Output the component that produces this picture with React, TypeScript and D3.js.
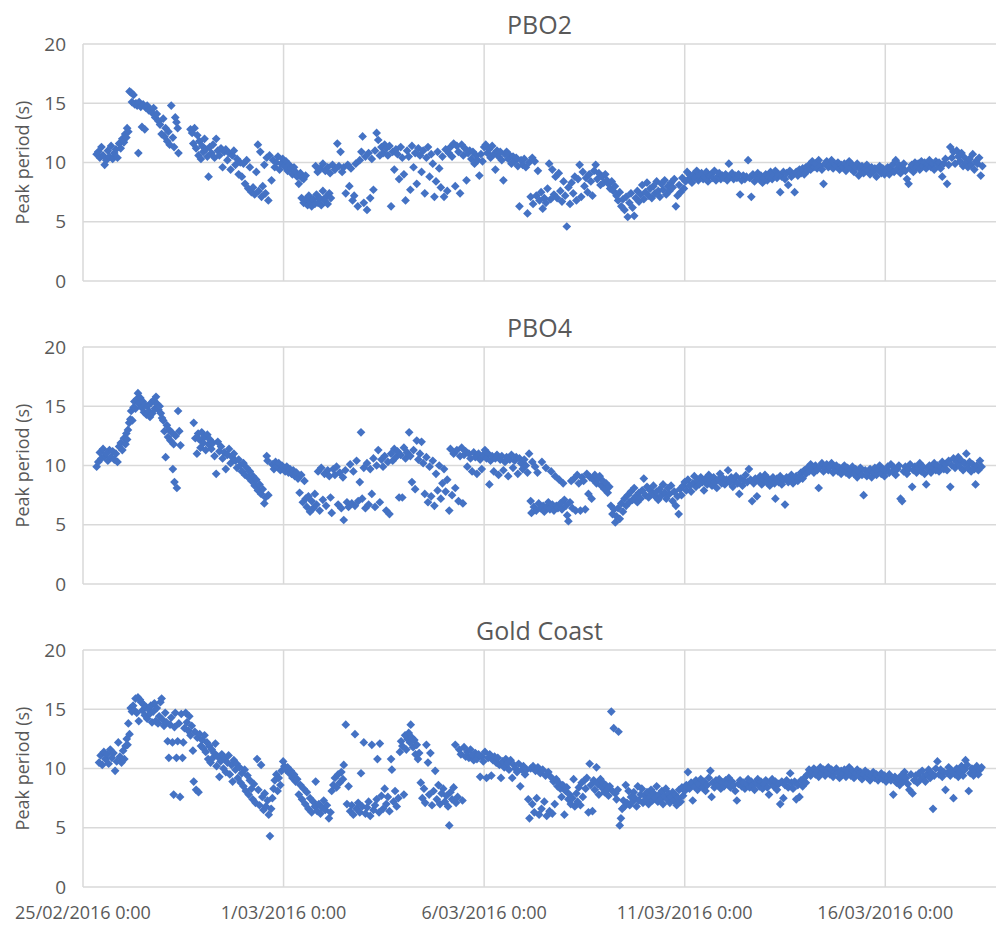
import React from 'react';
import * as d3 from 'd3';

// [days since 25/02/2016 0:00, peak period (s)]
const pbo2Points: [number, number][] = [
  [0.34,10.7],[0.38,10.9],[0.42,10.4],[0.46,11.3],[0.5,10.6],[0.54,9.8],[0.58,10.2],[0.62,11.0],[0.66,10.5],[0.7,11.4],[0.74,10.3],[0.78,10.8],[0.82,11.1],[0.86,10.4],[0.9,11.6],[0.94,11.2],[0.98,12.0],[1.02,11.7],[1.05,12.4],[1.08,12.1],[1.1,12.9],[1.13,12.6],
  [1.16,16.0],[1.2,15.9],[1.22,15.1],[1.26,15.7],[1.29,14.9],[1.32,15.0],[1.35,14.8],[1.38,10.8],[1.4,15.1],[1.44,14.7],[1.47,13.0],[1.5,14.9],[1.54,12.8],[1.57,14.6],[1.6,14.8],[1.64,14.4],[1.68,14.5],[1.72,14.2],[1.76,14.6],[1.8,13.8],[1.84,14.1],[1.88,13.5],[1.92,13.2],[1.96,12.4],[2.0,13.7],[2.03,12.2],[2.06,12.9],[2.1,11.8],[2.13,12.6],[2.16,11.5],[2.2,14.8],[2.24,12.1],[2.27,11.3],[2.3,13.8],[2.33,13.4],[2.36,12.9],[2.38,10.8],
  [2.68,12.8],[2.72,12.5],[2.75,11.6],[2.78,12.9],[2.82,11.2],[2.85,12.3],[2.88,10.6],[2.9,11.8],[2.94,10.3],[2.97,11.4],[3.0,10.9],[3.03,12.0],[3.06,11.1],[3.1,10.5],[3.13,8.8],
  [3.16,11.3],[3.2,10.8],[3.24,11.5],[3.28,10.4],[3.32,12.0],[3.36,11.0],[3.4,10.6],[3.44,11.2],[3.48,9.6],[3.52,10.9],[3.56,11.1],[3.6,10.2],[3.64,10.8],[3.68,9.4],[3.72,10.6],[3.76,11.0],[3.8,9.8],[3.84,10.3],[3.88,9.0],[3.92,10.0],[3.96,8.8],
  [4.0,9.9],[4.04,8.2],[4.08,10.2],[4.12,7.8],[4.16,9.6],[4.2,7.5],[4.24,7.9],[4.28,7.3],[4.32,9.2],[4.36,11.5],[4.38,7.6],[4.42,10.9],[4.45,7.1],[4.48,8.0],[4.52,9.8],[4.55,7.4],[4.58,10.4],[4.62,6.8],[4.65,10.6],[4.7,8.5],
  [4.74,10.2],[4.78,9.6],[4.82,10.0],[4.86,10.5],[4.9,9.4],[4.94,9.9],[4.98,10.3],[5.02,9.7],[5.06,10.1],[5.1,9.3],[5.14,9.8],[5.18,9.5],[5.22,9.0],[5.26,9.6],[5.3,9.2],[5.34,8.8],[5.38,8.2],[5.42,9.1],[5.46,8.7],[5.5,8.6],[5.55,8.9],
  [5.45,7.0],[5.5,6.6],[5.55,6.9],[5.6,6.4],[5.63,7.2],[5.67,6.7],[5.7,6.3],[5.74,6.9],[5.78,6.5],[5.82,7.3],[5.86,6.6],[5.9,7.0],[5.94,6.4],[5.98,7.6],[6.02,6.8],[6.06,7.1],[6.1,6.5],[6.14,7.4],[6.18,7.0],
  [5.8,9.7],[5.85,9.2],[5.92,9.5],[5.98,9.9],[6.04,9.3],[6.1,9.6],[6.16,9.1],[6.22,9.8],[6.28,9.4],[6.34,11.6],[6.38,9.7],[6.42,10.9],[6.46,9.2],[6.5,9.6],[6.55,7.4],[6.6,9.8],[6.64,8.0],[6.68,9.5],[6.72,6.8],[6.76,7.2],[6.8,9.9],[6.85,6.3],[6.9,10.2],[6.94,10.9],[6.97,12.2],[7.0,6.6],[7.04,10.5],[7.08,6.0],[7.12,10.8],[7.16,7.0],[7.2,10.3],[7.24,7.7],[7.28,11.0],[7.32,12.5],[7.36,11.9],[7.4,10.6],[7.44,11.3],[7.48,10.8],[7.52,11.5],
  [7.56,11.2],[7.6,10.6],[7.64,11.4],[7.68,6.3],[7.72,10.9],[7.76,9.4],[7.8,11.1],[7.84,10.7],[7.88,8.6],[7.92,11.3],[7.96,10.4],[8.0,9.0],[8.04,6.8],[8.08,11.0],[8.12,10.5],[8.16,7.7],[8.2,11.4],[8.24,9.6],[8.28,10.8],[8.32,8.2],[8.36,11.2],[8.4,10.6],[8.44,9.2],[8.48,11.0],[8.52,7.4],[8.56,10.4],[8.6,11.3],[8.64,8.8],[8.68,10.7],[8.72,9.9],[8.76,7.1],[8.8,8.4],[8.84,10.9],[8.88,9.5],[8.92,7.9],[8.96,10.5],[9.0,7.1],[9.04,11.1],[9.08,7.6],
  [9.12,10.8],[9.16,11.3],[9.2,10.5],[9.24,11.6],[9.28,8.0],[9.32,11.4],[9.36,10.9],[9.4,7.4],[9.44,11.5],[9.48,10.6],[9.52,11.2],[9.56,8.5],[9.6,10.8],[9.64,11.0],[9.68,10.3],[9.72,10.9],[9.76,9.9],[9.8,10.6],[9.84,10.2],[9.88,8.9],[9.92,10.7],[9.96,10.1],[10.0,11.3],[10.04,11.5],[10.08,10.8],[10.12,11.1],[10.16,10.4],[10.2,11.4],[10.24,10.7],[10.28,9.4],[10.32,11.0],[10.36,10.5],[10.4,10.9],[10.44,10.2],[10.48,8.5],[10.52,10.7],[10.56,10.9],[10.6,10.3],[10.64,10.6],[10.68,9.9],[10.72,10.5],[10.76,10.1],[10.8,10.4],[10.84,9.7],[10.88,6.3],[10.92,10.2],[10.96,9.8],[11.0,10.3],[11.04,9.6],[11.08,5.7],[11.12,10.0],[11.16,7.1],[11.2,10.4],
  [11.22,6.5],[11.26,10.1],[11.3,7.2],[11.34,9.3],[11.38,6.8],[11.42,7.5],[11.46,6.1],[11.5,7.0],[11.54,6.6],[11.58,7.8],[11.62,9.9],[11.66,6.9],[11.7,9.4],[11.74,7.3],[11.78,8.8],[11.82,7.0],[11.86,9.1],[11.9,7.6],[11.94,6.7],[11.98,8.4],[12.02,7.2],[12.06,4.6],[12.1,7.9],[12.14,6.5],[12.18,8.3],[12.22,7.4],[12.26,8.8],[12.3,6.8],[12.34,8.6],[12.38,9.8],[12.42,7.1],[12.46,9.2],[12.5,8.0],[12.54,8.7],[12.58,7.5],[12.62,9.0],[12.66,8.4],[12.7,7.2],[12.74,9.3],[12.78,9.8],[12.82,8.6],[12.86,9.1],[12.9,8.1],[12.94,8.8],[12.98,8.3],[13.02,9.0],[13.06,8.5],[13.1,8.2],[13.14,7.8],[13.18,8.4],[13.22,7.6],[13.26,8.0],[13.3,7.2],[13.34,6.8],[13.38,7.5],[13.42,6.3],[13.46,6.9],[13.5,6.0],[13.54,7.1],[13.58,5.4],[13.62,6.6],[13.66,7.4],[13.7,6.2],[13.74,5.5],[13.78,7.0],[13.82,7.6],[13.86,6.7],[13.9,7.3],[13.94,8.1],[13.98,6.9],[14.02,7.5],[14.06,8.3],[14.1,7.2],[14.14,7.8],[14.18,7.0],[14.22,8.0],[14.26,7.4],[14.3,8.4],[14.34,7.6],[14.38,7.1],[14.42,8.2],[14.46,7.7],[14.5,8.5],[14.54,7.3],[14.58,8.0],[14.62,7.6],[14.66,8.3],[14.7,7.9],[14.74,8.6],[14.78,6.3],[14.82,7.2],[14.86,8.1],[14.9,7.5],[14.94,8.7],[14.98,7.8],
  [15.02,8.4],[15.06,9.2],[15.1,8.6],[15.14,8.9],[15.18,8.3],[15.22,9.0],[15.26,8.7],[15.3,9.3],[15.34,8.5],[15.38,8.9],[15.42,9.1],[15.46,8.6],[15.5,8.8],[15.54,9.2],[15.58,8.4],[15.62,8.9],[15.66,9.0],[15.7,8.7],[15.74,9.3],[15.78,8.5],[15.82,8.8],[15.86,9.1],[15.9,8.6],[15.94,8.9],[15.98,8.7],[16.02,9.0],[16.06,8.5],[16.1,9.9],[16.14,8.8],[16.18,9.1],[16.22,8.6],[16.26,8.9],[16.3,8.7],[16.34,9.0],[16.38,7.3],[16.42,8.5],[16.46,8.9],[16.5,8.6],[16.54,8.8],[16.58,10.2],[16.62,8.7],[16.66,7.1],[16.7,9.0],[16.74,8.4],[16.78,8.8],[16.82,9.1],[16.86,8.6],[16.9,8.9],[16.94,8.3],[16.98,8.7],[17.02,9.0],[17.06,8.5],[17.1,8.8],[17.14,9.2],[17.18,8.6],[17.22,8.9],[17.26,9.3],[17.3,8.7],[17.34,9.0],[17.38,7.5],[17.42,8.8],[17.46,9.2],[17.5,8.6],[17.54,9.1],[17.58,8.1],[17.62,9.3],[17.66,8.8],[17.7,9.0],[17.74,7.5],[17.78,9.2],[17.82,8.9],[17.86,9.4],[17.9,9.1],[17.94,9.5],[17.98,9.0],
  [18.02,9.6],[18.06,9.3],[18.1,9.8],[18.14,9.4],[18.18,10.1],[18.22,9.6],[18.26,9.9],[18.3,9.5],[18.34,10.2],[18.38,9.7],[18.42,9.4],[18.46,8.2],[18.5,9.9],[18.54,10.1],[18.58,9.6],[18.62,9.8],[18.66,10.2],[18.7,9.5],[18.74,9.9],[18.78,9.7],[18.82,10.0],[18.86,9.4],[18.9,9.8],[18.94,9.6],[18.98,9.9],[19.02,9.3],[19.06,9.7],[19.1,10.1],[19.14,9.5],[19.18,9.8],[19.22,9.2],[19.26,9.6],[19.3,9.9],[19.34,8.9],[19.38,9.4],[19.42,9.7],[19.46,9.1],[19.5,9.5],[19.54,9.8],[19.58,9.3],[19.62,9.0],[19.66,9.6],[19.7,9.2],[19.74,9.5],[19.78,8.8],[19.82,9.4],[19.86,9.7],[19.9,9.1],[19.94,9.5],[19.98,9.0],
  [20.02,9.3],[20.06,9.6],[20.1,9.0],[20.14,9.4],[20.18,9.8],[20.22,9.2],[20.26,10.2],[20.3,9.5],[20.34,9.8],[20.38,9.1],[20.42,9.6],[20.46,9.9],[20.5,9.3],[20.54,8.6],[20.58,8.2],[20.62,9.5],[20.66,9.8],[20.7,9.2],[20.74,10.0],[20.78,9.6],[20.82,9.9],[20.86,9.4],[20.9,10.1],[20.94,9.7],[20.98,10.0],[21.02,9.5],[21.06,9.9],[21.1,10.2],[21.14,9.6],[21.18,9.9],[21.22,9.4],[21.26,10.1],[21.3,9.8],[21.34,10.0],[21.38,9.5],[21.42,8.8],[21.46,9.9],[21.5,10.3],[21.54,8.2],[21.58,9.8],[21.62,11.3],[21.66,10.4],[21.7,10.9],[21.74,9.9],[21.78,11.0],[21.82,10.5],[21.86,10.1],[21.9,10.8],[21.94,9.7],[21.98,10.4],[22.02,10.0],[22.06,9.6],[22.1,10.3],[22.14,9.8],[22.18,10.7],[22.22,9.4],[22.26,10.1],[22.3,9.9],[22.34,10.4],[22.38,8.9],[22.42,9.7],
];

const pbo4Points: [number, number][] = [
  [0.34,9.9],[0.38,10.3],[0.42,11.1],[0.46,10.6],[0.5,11.4],[0.54,10.8],[0.58,11.0],[0.62,10.4],[0.66,11.3],[0.7,10.7],[0.74,11.2],[0.78,10.5],[0.82,11.0],[0.86,10.3],[0.9,11.6],[0.94,11.9],[0.98,11.3],[1.02,12.3],[1.06,11.8],[1.08,12.7],[1.1,12.2],[1.12,13.0],
  [1.15,13.6],[1.18,13.9],[1.2,14.6],[1.23,13.8],[1.26,14.9],[1.28,15.4],[1.31,14.8],[1.34,15.6],[1.37,16.1],[1.4,15.2],[1.43,15.7],[1.46,14.9],[1.49,15.4],[1.52,14.5],[1.55,15.1],[1.58,14.3],[1.61,15.0],[1.64,14.6],[1.67,14.1],[1.7,15.3],[1.73,14.4],[1.76,15.5],[1.79,14.8],[1.82,15.8],[1.85,15.2],[1.88,14.7],[1.91,15.0],[1.94,14.4],[1.97,14.0],
  [2.0,13.8],[2.03,12.9],[2.06,10.7],[2.09,13.4],[2.12,12.4],[2.15,13.0],[2.18,12.1],[2.21,12.8],[2.24,9.7],[2.26,11.8],[2.28,8.6],[2.31,12.5],[2.34,8.1],[2.37,14.6],[2.4,12.9],[2.43,11.7],
  [2.76,13.6],[2.8,12.3],[2.84,11.0],[2.87,12.7],[2.9,12.2],[2.93,11.5],[2.96,12.8],[3.0,11.9],[3.03,12.4],[3.06,11.3],[3.1,12.6],[3.13,11.8],[3.16,12.2],[3.2,11.4],[3.24,11.9],[3.28,10.8],[3.32,9.3],[3.36,12.0],[3.4,11.2],[3.44,11.6],[3.48,10.6],[3.52,11.1],[3.56,9.7],[3.6,10.9],[3.64,11.4],[3.68,10.2],[3.72,10.7],[3.76,11.0],[3.8,10.4],[3.84,9.8],[3.88,10.5],[3.92,10.0],[3.96,9.5],[4.0,10.2],[4.04,9.2],[4.08,9.8],[4.12,9.0],[4.16,9.5],[4.2,8.7],[4.24,9.1],[4.28,8.3],[4.32,8.8],[4.36,7.9],[4.4,8.4],[4.44,7.6],[4.48,8.0],[4.52,6.8],[4.55,7.3],[4.58,10.8],[4.6,10.4],[4.62,7.5],
  [4.72,10.1],[4.76,9.7],[4.8,10.3],[4.84,9.9],[4.88,10.2],[4.92,9.6],[4.96,10.0],[5.0,9.8],[5.04,9.5],[5.08,9.9],[5.12,9.4],[5.16,9.7],[5.2,9.3],[5.24,9.6],[5.28,9.1],[5.32,9.4],[5.36,8.9],[5.4,7.7],[5.44,9.2],[5.48,6.9],[5.52,8.7],[5.55,7.2],[5.58,6.5],[5.62,7.4],[5.66,6.1],[5.7,7.0],[5.74,6.4],[5.78,7.6],[5.82,6.7],[5.86,9.5],[5.9,6.2],[5.94,9.8],[5.98,7.1],[6.02,9.3],[6.06,6.6],[6.1,9.6],[6.14,9.1],[6.17,7.3],[6.2,6.0],[6.24,9.7],[6.28,9.2],[6.32,9.9],[6.36,6.7],[6.4,9.4],[6.44,6.4],[6.48,9.0],[6.5,5.4],[6.54,9.6],[6.58,6.9],[6.62,6.5],[6.66,10.1],[6.7,6.8],[6.74,9.5],[6.78,6.6],[6.82,10.4],[6.86,7.0],[6.9,8.6],[6.93,12.8],[6.96,7.2],[7.0,9.8],[7.04,6.4],[7.08,10.2],[7.12,6.7],[7.16,9.7],[7.2,7.6],[7.24,10.6],[7.28,6.5],[7.32,10.0],[7.36,11.3],[7.4,6.9],[7.44,10.5],[7.48,9.9],[7.52,10.8],[7.56,6.2],[7.6,10.3],[7.64,5.9],[7.68,11.0],[7.72,10.4],[7.76,11.4],[7.8,10.7],[7.84,11.2],[7.88,7.3],[7.92,10.9],[7.96,7.3],
  [8.0,11.5],[8.04,10.6],[8.08,11.1],[8.13,12.8],[8.16,10.8],[8.2,8.6],[8.24,11.3],[8.28,8.0],[8.32,12.1],[8.36,10.5],[8.4,11.0],[8.44,12.0],[8.48,10.2],[8.52,7.6],[8.56,10.7],[8.6,6.9],[8.64,9.9],[8.68,7.4],[8.72,10.4],[8.76,6.6],[8.8,9.3],[8.84,7.9],[8.88,10.0],[8.92,7.2],[8.96,8.5],[9.0,9.7],[9.04,7.8],[9.08,8.8],[9.13,6.2],[9.16,11.4],[9.2,7.5],[9.24,11.0],[9.28,8.1],[9.32,11.3],[9.36,7.0],[9.4,10.8],[9.44,11.5],[9.47,6.8],[9.5,10.9],[9.54,11.2],[9.58,9.9],[9.62,11.0],[9.66,10.6],[9.7,9.5],[9.74,11.1],[9.78,10.7],[9.82,9.3],[9.86,11.0],[9.9,10.5],[9.94,9.7],[9.98,10.9],
  [10.02,11.3],[10.06,10.6],[10.1,11.0],[10.13,8.4],[10.16,10.4],[10.2,10.8],[10.24,9.5],[10.28,10.6],[10.32,10.9],[10.36,9.2],[10.4,10.5],[10.44,10.8],[10.48,9.6],[10.52,10.3],[10.56,10.7],[10.6,9.1],[10.64,10.5],[10.68,10.9],[10.72,9.8],[10.76,10.4],[10.8,10.7],[10.84,9.3],[10.88,10.6],[10.92,10.2],[10.96,9.7],[11.0,10.5],[11.04,10.0],[11.08,9.4],[11.12,11.0],[11.16,7.0],[11.18,6.0],[11.2,10.3],
  [11.24,6.5],[11.27,9.9],[11.3,6.2],[11.33,9.4],[11.36,6.8],[11.4,6.4],[11.44,10.3],[11.47,6.6],[11.5,6.1],[11.54,9.8],[11.57,6.5],[11.6,6.9],[11.64,6.3],[11.67,9.5],[11.7,6.7],[11.74,6.2],[11.77,9.1],[11.8,6.6],[11.84,6.4],[11.87,8.8],[11.9,6.8],[11.94,6.3],[11.97,8.5],[12.0,7.1],[12.04,6.6],[12.07,5.8],[12.1,5.3],[12.14,6.9],[12.17,8.7],[12.2,6.4],
  [12.24,8.9],[12.28,6.2],[12.32,9.2],[12.36,8.5],[12.4,6.2],[12.44,9.0],[12.48,8.7],[12.52,6.3],[12.56,9.3],[12.6,7.6],[12.64,9.0],[12.68,7.2],[12.72,8.8],[12.76,9.2],[12.8,8.5],[12.84,8.9],[12.88,9.1],[12.92,8.3],[12.96,8.7],[13.0,8.0],[13.04,8.5],[13.08,7.7],[13.12,8.2],[13.16,6.6],[13.2,5.9],[13.24,6.3],[13.27,5.2],[13.3,5.7],[13.34,6.4],[13.38,5.5],[13.42,6.8],[13.46,6.1],[13.5,7.2],
  [13.54,6.6],[13.58,7.5],[13.62,6.9],[13.66,7.8],[13.7,7.1],[13.74,8.1],[13.78,7.4],[13.82,6.9],[13.86,7.7],[13.9,7.2],[13.94,7.9],[13.98,8.9],[14.02,7.5],[14.06,8.2],[14.1,7.3],[14.14,7.9],[14.18,7.6],[14.22,8.3],[14.26,7.4],[14.3,7.8],[14.34,7.1],[14.38,8.0],[14.42,7.5],[14.46,8.4],[14.5,7.7],[14.54,7.2],[14.58,8.1],[14.62,7.6],[14.66,8.3],[14.7,7.0],[14.74,7.8],[14.78,6.6],[14.82,7.4],[14.85,5.9],[14.88,8.0],[14.92,7.5],[14.96,8.3],
  [15.0,8.6],[15.04,7.9],[15.08,8.8],[15.12,8.3],[15.16,7.8],[15.2,8.5],[15.24,9.1],[15.28,8.2],[15.32,8.7],[15.36,8.4],[15.4,9.0],[15.44,8.6],[15.48,7.9],[15.52,8.9],[15.56,8.4],[15.6,9.2],[15.64,8.7],[15.68,8.3],[15.72,9.0],[15.76,8.6],[15.8,8.1],[15.84,8.8],[15.88,9.3],[15.92,8.5],[15.96,8.9],[16.0,8.4],[16.04,8.8],[16.08,9.6],[16.12,8.6],[16.16,9.0],[16.2,8.2],[16.24,8.7],[16.28,9.1],[16.32,8.5],[16.36,7.6],[16.4,8.9],[16.44,8.3],[16.48,8.7],[16.52,9.2],[16.56,8.6],[16.6,9.7],[16.64,8.8],[16.68,7.0],[16.72,8.5],[16.76,8.9],[16.8,7.4],[16.84,8.7],[16.88,9.1],[16.92,8.4],[16.96,8.8],
  [17.0,9.2],[17.04,8.6],[17.08,8.9],[17.12,8.3],[17.16,8.8],[17.2,9.0],[17.24,8.5],[17.26,7.2],[17.3,8.9],[17.34,8.6],[17.38,9.1],[17.42,8.4],[17.46,8.8],[17.5,6.7],[17.54,9.0],[17.58,8.6],[17.62,8.9],[17.66,9.2],[17.7,8.5],[17.74,8.8],[17.78,9.1],[17.82,8.7],[17.86,9.0],[17.9,9.4],[17.94,8.9],[17.98,9.6],
  [18.02,9.3],[18.06,9.8],[18.1,9.5],[18.14,10.1],[18.18,9.7],[18.22,9.4],[18.26,10.0],[18.3,9.6],[18.34,8.1],[18.38,9.9],[18.42,10.2],[18.46,9.5],[18.5,9.8],[18.54,10.1],[18.58,9.6],[18.62,9.9],[18.66,10.2],[18.7,9.4],[18.74,9.8],[18.78,10.0],[18.82,9.5],[18.86,9.8],[18.9,9.3],[18.94,9.7],[18.98,10.0],[19.02,9.4],[19.06,9.8],[19.1,9.2],[19.14,9.6],[19.18,9.9],[19.22,9.3],[19.26,9.7],[19.3,9.0],[19.34,9.5],[19.38,9.8],[19.42,9.2],[19.46,7.5],[19.5,9.6],[19.54,9.1],[19.58,9.4],[19.62,9.7],[19.66,9.0],[19.7,9.4],[19.74,9.8],[19.78,9.2],[19.82,9.5],[19.86,10.0],[19.9,9.3],[19.94,9.7],[19.98,9.1],
  [20.02,9.6],[20.06,9.9],[20.1,9.4],[20.14,10.1],[20.18,9.5],[20.22,9.8],[20.26,9.2],[20.3,9.7],[20.34,10.0],[20.38,7.2],[20.42,7.0],[20.46,9.5],[20.5,9.9],[20.54,9.3],[20.58,9.7],[20.62,10.1],[20.67,8.2],[20.7,9.6],[20.74,9.9],[20.78,9.4],[20.82,9.8],[20.86,10.2],[20.9,9.5],[20.94,9.9],[20.98,9.3],[21.02,8.4],[21.06,9.7],[21.1,10.0],[21.14,9.4],[21.18,9.8],[21.22,10.2],[21.26,9.6],[21.3,10.0],[21.34,9.5],[21.38,9.9],[21.42,10.3],[21.46,9.7],[21.5,10.1],[21.54,9.6],[21.58,10.4],[21.62,8.2],[21.66,10.0],[21.7,10.6],[21.74,9.8],[21.78,10.3],[21.82,10.7],[21.86,9.9],[21.9,10.4],[21.94,9.6],[21.98,10.2],[22.02,11.0],[22.06,9.8],[22.1,10.3],[22.14,9.5],[22.18,10.1],[22.22,9.7],[22.25,8.4],[22.28,10.0],[22.32,9.6],[22.36,10.4],[22.4,9.9],
];

const goldCoastPoints: [number, number][] = [
  [0.4,10.5],[0.44,11.1],[0.48,10.3],[0.52,11.4],[0.56,10.8],[0.6,11.2],[0.64,10.4],[0.68,11.6],[0.72,10.9],[0.76,11.3],[0.8,9.8],[0.84,10.6],[0.88,12.2],[0.92,11.0],[0.96,10.5],[1.0,11.5],[1.03,10.8],[1.06,11.9],[1.09,12.5],[1.11,12.0],[1.13,13.8],[1.16,12.9],
  [1.19,15.1],[1.22,14.8],[1.25,15.3],[1.28,14.9],[1.31,15.9],[1.34,14.7],[1.37,16.0],[1.39,14.0],[1.42,15.8],[1.45,15.6],[1.48,14.9],[1.51,15.4],[1.54,14.5],[1.57,15.2],[1.6,14.2],[1.63,15.0],[1.66,14.6],[1.69,15.3],[1.72,13.9],[1.75,14.8],[1.78,15.5],[1.81,14.0],[1.84,15.1],[1.87,13.8],[1.9,14.4],[1.93,15.6],[1.96,15.9],[1.99,14.1],
  [2.02,13.6],[2.05,14.7],[2.08,13.9],[2.11,12.3],[2.14,10.9],[2.17,13.7],[2.2,14.3],[2.23,12.2],[2.26,7.8],[2.28,13.5],[2.3,14.7],[2.33,10.9],[2.36,12.3],[2.39,13.8],[2.42,7.6],[2.45,14.6],[2.48,10.9],[2.5,12.2],[2.53,13.4],[2.56,14.7],[2.59,13.9],[2.62,13.2],[2.65,14.4],[2.68,12.8],[2.71,13.6],[2.74,11.5],[2.76,8.9],[2.79,13.1],[2.82,8.2],[2.85,12.6],[2.88,8.0],[2.91,12.9],[2.94,11.9],[2.97,12.4],
  [3.0,11.7],[3.03,12.8],[3.06,11.4],[3.09,12.2],[3.12,10.8],[3.15,11.9],[3.18,10.5],[3.21,11.6],[3.24,10.9],[3.27,11.3],[3.3,12.1],[3.33,10.2],[3.36,11.0],[3.4,9.3],[3.43,10.6],[3.46,11.2],[3.5,10.0],[3.53,10.8],[3.56,9.7],[3.6,10.5],[3.63,11.1],[3.66,9.5],[3.7,10.3],[3.73,8.9],[3.76,10.7],[3.8,9.9],[3.83,10.4],[3.86,9.2],[3.9,10.1],[3.93,8.8],[3.96,9.6],
  [4.0,8.5],[4.03,9.9],[4.06,8.1],[4.1,9.4],[4.13,7.8],[4.16,9.0],[4.2,8.3],[4.23,7.4],[4.26,8.7],[4.3,7.1],[4.34,10.8],[4.37,8.2],[4.4,6.9],[4.44,10.3],[4.47,7.6],[4.5,6.5],[4.53,7.9],[4.56,6.8],[4.6,7.3],[4.63,6.1],[4.66,4.3],[4.69,6.6],[4.72,7.5],[4.75,8.3],[4.78,9.0],[4.82,9.5],[4.85,8.1],[4.88,9.2],[4.92,8.6],[4.95,9.8],[4.99,10.6],
  [5.02,10.2],[5.06,9.9],[5.1,10.1],[5.14,9.6],[5.18,9.8],[5.22,9.2],[5.26,9.5],[5.3,8.9],[5.34,9.1],[5.38,7.8],[5.42,8.6],[5.46,7.4],[5.5,8.3],[5.54,7.0],[5.58,8.0],[5.62,6.6],[5.66,7.5],[5.7,6.3],[5.74,7.2],[5.78,6.8],[5.8,8.9],[5.84,6.4],[5.88,7.0],[5.92,6.2],[5.96,6.7],
  [6.0,7.3],[6.04,6.5],[6.08,6.9],[6.13,5.8],[6.17,6.3],[6.2,8.1],[6.24,8.6],[6.28,9.2],[6.32,8.4],[6.36,9.5],[6.4,8.8],[6.44,9.7],[6.48,9.1],[6.5,10.3],[6.55,13.7],[6.58,7.0],[6.62,8.5],[6.66,6.4],[6.7,6.9],[6.74,6.1],[6.78,12.9],[6.82,6.6],[6.86,7.1],[6.9,6.3],[6.93,9.6],[6.96,6.8],
  [7.0,12.2],[7.04,6.2],[7.08,6.7],[7.12,7.2],[7.16,6.0],[7.2,12.0],[7.24,6.5],[7.28,6.9],[7.32,7.4],[7.34,10.8],[7.38,6.3],[7.4,12.1],[7.44,7.7],[7.48,6.6],[7.52,8.3],[7.56,7.0],[7.6,7.6],[7.64,6.4],[7.68,10.8],[7.7,9.9],[7.74,7.2],[7.78,8.1],[7.82,6.8],[7.86,7.5],[7.9,11.4],[7.93,12.3],[7.96,11.9],
  [8.0,7.8],[8.03,12.8],[8.06,11.6],[8.09,12.5],[8.12,13.0],[8.15,12.2],[8.17,13.7],[8.2,12.6],[8.23,11.8],[8.26,12.4],[8.29,11.2],[8.32,12.0],[8.35,10.8],[8.38,11.3],[8.42,8.8],[8.46,7.5],[8.5,8.3],[8.53,7.1],[8.56,12.0],[8.6,10.5],[8.63,7.8],[8.66,11.3],[8.7,6.9],[8.74,8.1],[8.78,9.8],[8.82,7.4],[8.86,8.6],[8.9,7.0],[8.94,7.9],[8.98,8.3],
  [9.02,7.2],[9.06,7.7],[9.1,6.8],[9.13,5.2],[9.16,8.0],[9.2,7.4],[9.24,8.4],[9.28,12.0],[9.3,7.1],[9.34,7.6],[9.38,11.6],[9.42,11.2],[9.46,7.3],[9.5,11.8],[9.54,11.0],[9.58,11.4],[9.62,10.9],[9.66,11.6],[9.7,11.1],[9.74,10.7],[9.78,11.3],[9.82,10.8],[9.86,11.2],[9.9,9.3],[9.94,11.0],[9.98,10.6],
  [10.02,11.4],[10.06,9.2],[10.1,10.9],[10.14,11.2],[10.18,9.4],[10.22,10.7],[10.26,11.0],[10.3,10.5],[10.34,10.9],[10.38,10.3],[10.42,9.2],[10.46,10.6],[10.5,10.1],[10.54,10.8],[10.58,10.4],[10.62,9.9],[10.66,10.7],[10.7,9.2],[10.74,10.3],[10.78,10.0],[10.82,9.7],[10.86,10.4],[10.9,8.5],[10.94,9.9],[10.98,10.2],[11.02,9.5],[11.06,9.9],[11.1,7.4],[11.13,5.8],[11.16,10.0],[11.2,7.0],
  [11.22,10.2],[11.25,6.3],[11.28,9.8],[11.31,7.5],[11.34,10.1],[11.37,6.1],[11.4,9.6],[11.43,6.6],[11.46,9.9],[11.5,7.2],[11.53,9.4],[11.56,6.0],[11.6,9.7],[11.63,6.4],[11.66,9.3],[11.7,6.2],[11.73,8.9],[11.76,7.0],[11.8,9.1],[11.83,8.5],[11.86,8.8],[11.9,8.3],[11.93,7.6],[11.96,8.6],
  [12.0,6.1],[12.03,8.1],[12.06,8.4],[12.1,7.4],[12.13,7.8],[12.16,7.0],[12.2,7.5],[12.23,9.1],[12.26,6.8],[12.3,7.9],[12.33,7.2],[12.36,8.4],[12.4,6.9],[12.43,8.8],[12.46,7.6],[12.5,9.0],[12.53,8.3],[12.56,9.2],[12.6,6.3],[12.63,10.4],[12.66,8.6],[12.7,6.4],[12.73,9.0],[12.76,8.2],[12.8,10.1],[12.83,8.7],[12.86,7.8],[12.9,9.1],[12.93,8.4],[12.96,8.8],
  [13.0,8.0],[13.03,8.6],[13.06,8.2],[13.1,7.7],[13.13,8.5],[13.17,14.8],[13.2,8.1],[13.23,13.4],[13.27,7.9],[13.3,7.4],[13.33,8.2],[13.35,13.1],[13.38,5.2],[13.41,5.8],[13.44,6.6],[13.47,7.3],[13.5,6.8],[13.53,8.6],[13.56,7.1],[13.6,8.1],[13.63,6.9],[13.66,7.6],[13.7,7.2],[13.73,8.0],[13.76,7.5],[13.8,6.8],[13.83,8.5],[13.86,7.3],[13.9,7.8],[13.93,8.3],[13.96,7.1],
  [14.0,7.7],[14.03,7.4],[14.06,8.0],[14.1,7.0],[14.13,7.6],[14.16,8.2],[14.2,7.3],[14.23,7.9],[14.26,7.5],[14.3,8.5],[14.33,7.2],[14.36,7.8],[14.4,7.4],[14.43,8.1],[14.46,7.0],[14.5,7.7],[14.53,8.3],[14.56,7.4],[14.6,7.9],[14.63,7.1],[14.66,7.6],[14.7,8.0],[14.73,7.3],[14.76,7.8],[14.8,6.9],[14.83,7.5],[14.86,8.2],[14.9,7.2],[14.93,8.4],[14.96,7.7],
  [15.0,8.1],[15.04,8.6],[15.08,9.7],[15.12,8.3],[15.16,8.8],[15.2,7.3],[15.24,8.5],[15.28,9.0],[15.32,8.2],[15.36,8.7],[15.4,9.1],[15.44,8.4],[15.48,8.9],[15.52,8.1],[15.56,8.6],[15.6,9.2],[15.64,9.8],[15.67,7.6],[15.7,8.8],[15.74,8.4],[15.78,9.0],[15.82,8.6],[15.86,9.1],[15.9,8.3],[15.94,8.8],[15.98,8.5],
  [16.02,9.0],[16.06,8.7],[16.1,9.2],[16.14,8.4],[16.18,8.9],[16.22,8.6],[16.26,8.1],[16.3,7.3],[16.34,8.7],[16.38,9.0],[16.42,8.5],[16.46,8.8],[16.5,8.3],[16.54,8.7],[16.58,9.1],[16.62,8.4],[16.66,8.9],[16.7,8.6],[16.74,8.2],[16.78,8.8],[16.82,9.1],[16.86,8.5],[16.9,8.9],[16.94,8.3],[16.98,8.7],
  [17.02,9.0],[17.06,8.4],[17.1,7.8],[17.14,8.8],[17.18,9.1],[17.22,8.5],[17.26,8.9],[17.3,8.2],[17.34,8.7],[17.38,7.0],[17.42,8.9],[17.46,7.5],[17.5,8.6],[17.54,9.0],[17.58,8.4],[17.63,9.6],[17.66,8.8],[17.7,8.3],[17.74,8.9],[17.78,7.4],[17.82,8.6],[17.86,7.6],[17.9,9.0],[17.94,8.5],[17.98,9.2],
  [18.02,8.8],[18.06,9.5],[18.1,9.9],[18.14,9.4],[18.18,9.7],[18.22,10.0],[18.26,9.5],[18.3,9.8],[18.34,9.3],[18.38,10.1],[18.42,9.6],[18.46,9.9],[18.5,9.4],[18.54,9.8],[18.58,10.1],[18.62,9.5],[18.66,9.9],[18.7,9.3],[18.74,9.7],[18.78,10.0],[18.82,9.6],[18.86,9.2],[18.9,9.8],[18.94,9.5],[18.98,9.9],
  [19.02,9.3],[19.06,9.7],[19.1,10.1],[19.14,9.4],[19.18,9.8],[19.22,9.2],[19.26,9.6],[19.3,9.9],[19.34,9.4],[19.38,9.7],[19.42,9.1],[19.46,9.5],[19.5,9.8],[19.54,9.3],[19.58,9.6],[19.62,9.0],[19.66,9.4],[19.7,9.7],[19.74,9.2],[19.78,9.5],[19.82,9.0],[19.86,9.3],[19.9,9.6],[19.94,9.1],[19.98,9.4],
  [20.02,8.9],[20.06,9.2],[20.1,9.5],[20.14,9.0],[20.2,7.8],[20.24,9.3],[20.28,8.8],[20.32,9.1],[20.36,8.6],[20.4,9.4],[20.44,8.9],[20.48,9.7],[20.52,9.2],[20.56,8.7],[20.6,8.2],[20.64,9.5],[20.68,7.9],[20.72,9.0],[20.76,9.4],[20.8,8.8],[20.84,9.6],[20.88,9.1],[20.92,9.8],[20.96,9.3],
  [21.0,8.9],[21.04,9.5],[21.08,9.9],[21.12,9.2],[21.16,9.6],[21.19,6.6],[21.22,9.4],[21.26,10.0],[21.3,10.6],[21.34,9.5],[21.38,9.9],[21.42,9.3],[21.46,9.7],[21.5,8.2],[21.54,9.6],[21.58,10.1],[21.62,9.4],[21.66,9.8],[21.7,7.5],[21.74,9.5],[21.78,10.0],[21.82,9.3],[21.86,9.7],[21.9,10.2],[21.94,9.4],[21.98,9.9],
  [22.0,10.7],[22.04,10.3],[22.08,8.1],[22.12,9.6],[22.16,10.0],[22.2,9.4],[22.24,9.8],[22.28,10.2],[22.32,9.5],[22.36,9.9],[22.4,10.1],
];

const panelTitles = ['PBO2', 'PBO4', 'Gold Coast'];
const panelData = [pbo2Points, pbo4Points, goldCoastPoints];
const yTicks = [0, 5, 10, 15, 20];
const xTickDays = [0, 5, 10, 15, 20];
const xTickLabels = ['25/02/2016 0:00', '1/03/2016 0:00', '6/03/2016 0:00', '11/03/2016 0:00', '16/03/2016 0:00'];

const START = Date.UTC(2016, 1, 25);
const DAY = 86400000;
const toDate = (day: number) => new Date(START + day * DAY);

const width = 997;
const height = 926;
const plotLeft = 83;
const plotRight = 996;
const panelTops = [44, 347, 650];
const panelHeight = 237;

const font = "'Open Sans', sans-serif";
const textColor = '#595959';
const gridColor = '#d9d9d9';
const markerColor = '#4472c4';

const x = d3.scaleUtc()
  .domain([toDate(0), toDate(22.76)])
  .range([plotLeft, plotRight]);

// diamond = square rotated 45deg, ~8.5px across
const marker = d3.symbol().type(d3.symbolSquare).size(38)();

const Panel = ({ title, data, top, showX }: { title: string; data: [number, number][]; top: number; showX: boolean }) => {
  const y = d3.scaleLinear().domain([0, 20]).range([top + panelHeight, top]);
  return (
    <g>
      {yTicks.map(t => (
        <line key={'h' + t} x1={plotLeft} x2={plotRight} y1={y(t)} y2={y(t)} stroke={gridColor} strokeWidth={1.5} />
      ))}
      {xTickDays.map(d => (
        <line key={'v' + d} x1={x(toDate(d))} x2={x(toDate(d))} y1={top} y2={top + panelHeight} stroke={gridColor} strokeWidth={1.5} />
      ))}
      {yTicks.map(t => (
        <text key={'yl' + t} x={plotLeft - 17} y={y(t)} dy='0.35em' textAnchor='end' fontSize={19} fill={textColor}>
          {t}
        </text>
      ))}
      <text
        transform={`translate(29, ${top + panelHeight / 2}) rotate(-90)`}
        textAnchor='middle'
        fontSize={18}
        fill={textColor}>
        Peak period (s)
      </text>
      <text x={(plotLeft + plotRight) / 2} y={top - 10} textAnchor='middle' fontSize={25} fill={textColor}>
        {title}
      </text>
      {data.map((d, i) => (
        <path
          key={i}
          d={marker}
          transform={`translate(${x(toDate(d[0]))}, ${y(d[1])}) rotate(45)`}
          fill={markerColor}
        />
      ))}
      {showX &&
        xTickDays.map((d, i) => (
          <text key={'xl' + d} x={x(toDate(d))} y={top + panelHeight + 32} textAnchor='middle' fontSize={18} fill={textColor}>
            {xTickLabels[i]}
          </text>
        ))}
    </g>
  );
};

export default function App() {
  return (
    <svg
      width={width}
      height={height}
      style={{ position: 'absolute', left: 0, top: 0, background: '#fff', fontFamily: font }}>
      <rect width={width} height={height} fill='#fff' />
      {panelTitles.map((t, i) => (
        <Panel key={t} title={t} data={panelData[i]} top={panelTops[i]} showX={i === 2} />
      ))}
    </svg>
  );
}
